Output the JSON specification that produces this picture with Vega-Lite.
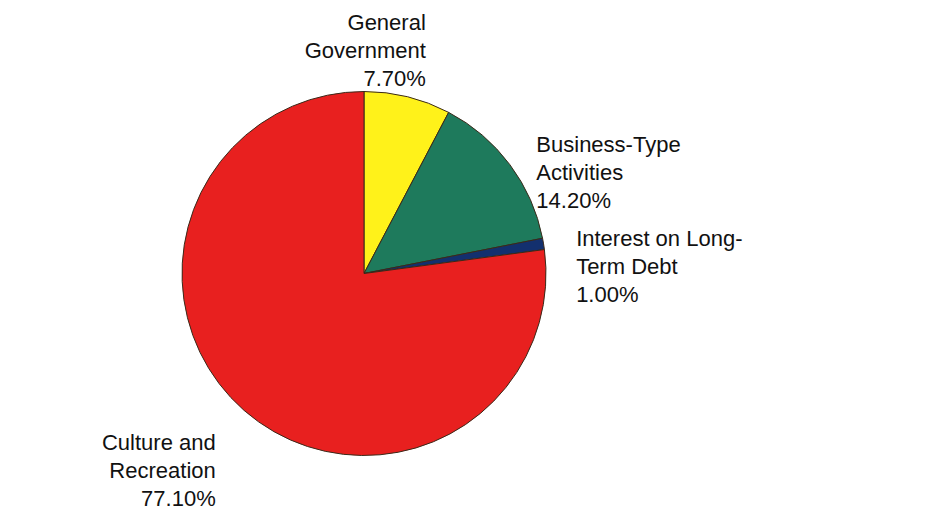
{
  "$schema": "https://vega.github.io/schema/vega-lite/v6.json",
  "width": 928,
  "height": 527,
  "autosize": {"type": "fit", "contains": "padding"},
  "padding": {"left": 0, "right": 200, "top": 20, "bottom": 0},
  "background": "white",
  "config": {"view": {"stroke": null}, "text": {"font": "Liberation Sans", "fontSize": 22, "lineHeight": 28, "lineBreak": "\n"}},
  "data": {
    "values": [
      {"category": "General Government", "order": 1, "value": 7.7, "label": "General\nGovernment\n7.70%", "side": "top"},
      {"category": "Business-Type Activities", "order": 2, "value": 14.2, "label": "Business-Type\nActivities\n14.20%", "side": "right"},
      {"category": "Interest on Long-Term Debt", "order": 3, "value": 1.0, "label": "Interest on Long-\nTerm Debt\n1.00%", "side": "right"},
      {"category": "Culture and Recreation", "order": 4, "value": 77.1, "label": "Culture and\nRecreation\n77.10%", "side": "left"}
    ]
  },
  "encoding": {
    "theta": {"field": "value", "type": "quantitative", "stack": true},
    "order": {"field": "order", "type": "quantitative"}
  },
  "layer": [
    {
      "mark": {"type": "arc", "outerRadius": 182, "stroke": "#3a2a1a", "strokeWidth": 1},
      "encoding": {
        "color": {
          "field": "category",
          "type": "nominal",
          "scale": {
            "domain": ["General Government", "Business-Type Activities", "Interest on Long-Term Debt", "Culture and Recreation"],
            "range": ["#fff21a", "#1e7a5c", "#13306e", "#e8201f"]
          },
          "legend": null
        }
      }
    },
    {
      "mark": {"type": "text", "radius": 258, "align": "right", "baseline": "middle", "color": "#111"},
      "encoding": {
        "text": {"field": "label"},
        "opacity": {"condition": {"test": "datum.side == 'top'", "value": 1}, "value": 0}
      }
    },
    {
      "mark": {"type": "text", "radius": 215, "align": "left", "baseline": "middle", "color": "#111"},
      "encoding": {
        "text": {"field": "label"},
        "opacity": {"condition": {"test": "datum.side == 'right'", "value": 1}, "value": 0}
      }
    },
    {
      "mark": {"type": "text", "radius": 225, "align": "right", "baseline": "middle", "color": "#111"},
      "encoding": {
        "text": {"field": "label"},
        "opacity": {"condition": {"test": "datum.side == 'left'", "value": 1}, "value": 0}
      }
    }
  ]
}
